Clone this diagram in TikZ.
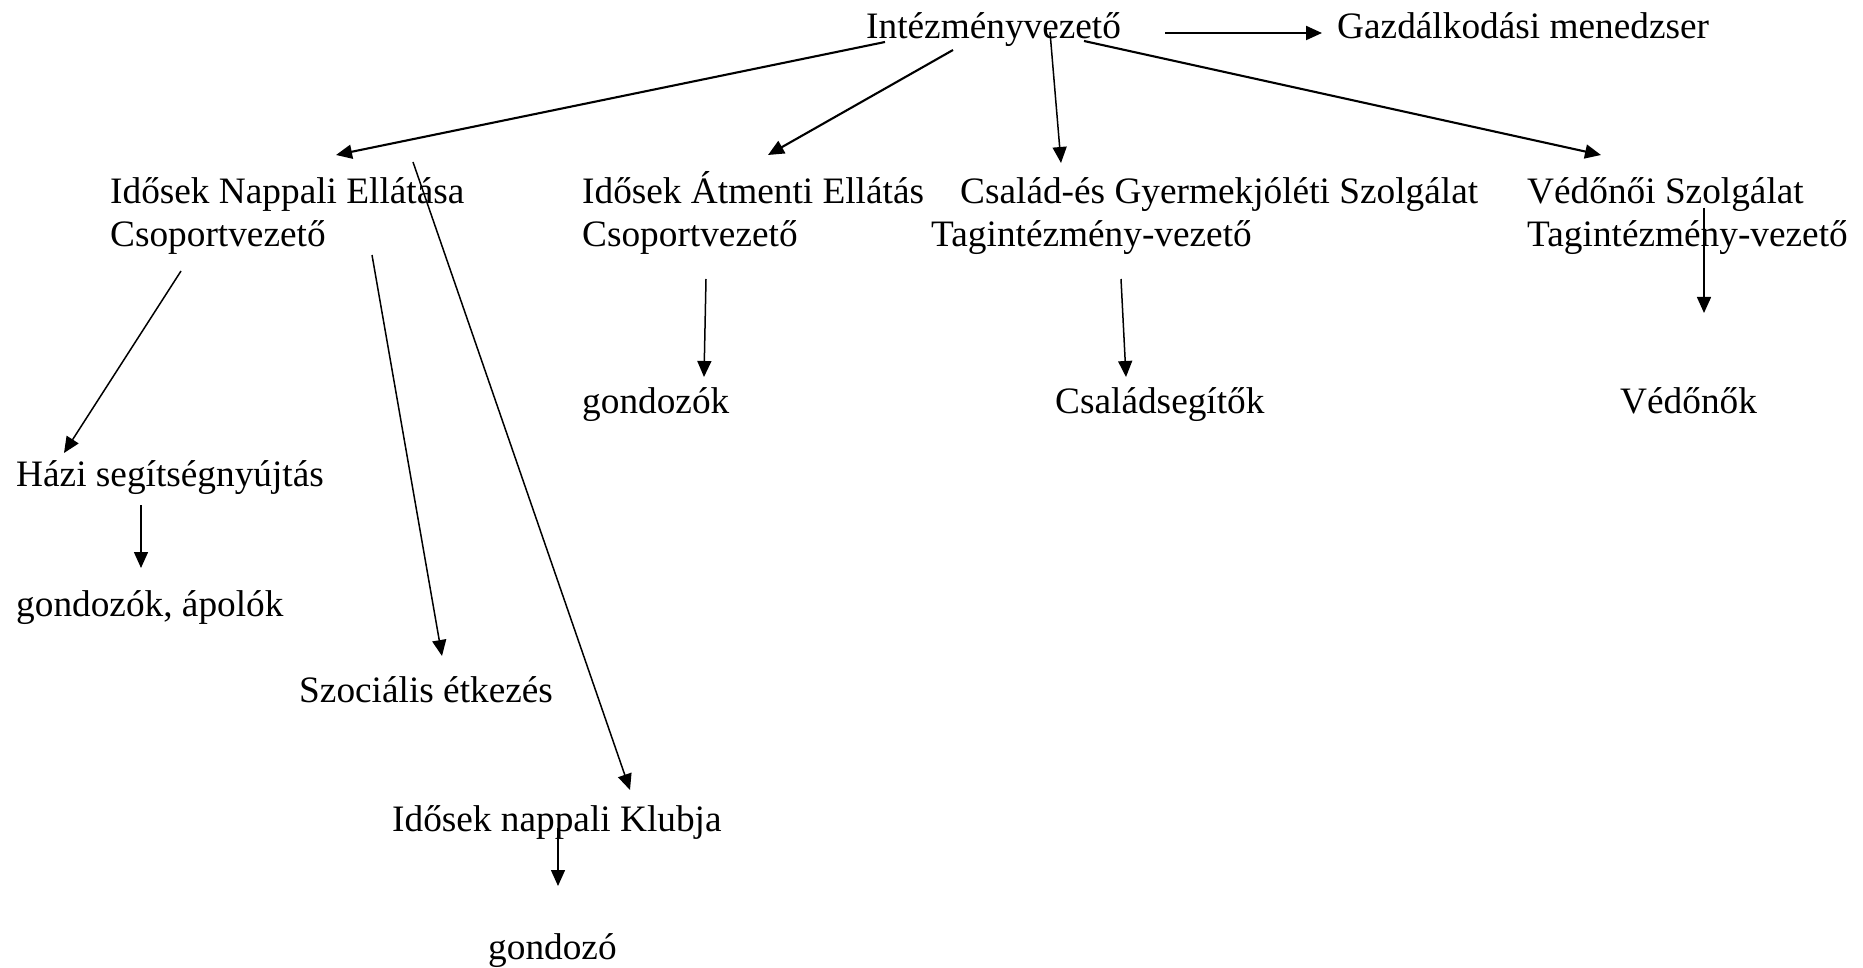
\documentclass[tikz,border=0pt]{standalone}
\usepackage{fontspec}
\setmainfont{Liberation Serif}
\usetikzlibrary{arrows.meta}
\begin{document}
\begin{tikzpicture}[x=1pt,y=-1pt,
  lbl/.style={anchor=base west, inner sep=0pt, font=\fontsize{37.3}{43}\selectfont},
  conn/.style={-{Triangle[length=16pt,width=14pt]}, line width=1.5pt},
  bconn/.style={conn, line width=2.1pt}]
\useasboundingbox (0,0) rectangle (1863,968);
% nodes
\node[lbl] (top) at (866,39) {Intézményvezető};
\node[lbl] (gazd) at (1337,39) {Gazdálkodási menedzser};
\node[lbl] (napA) at (110,204) {Idősek Nappali Ellátása};
\node[lbl] (napB) at (110,247) {Csoportvezető};
\node[lbl] (atmA) at (582,204) {Idősek Átmenti Ellátás};
\node[lbl] (atmB) at (582,247) {Csoportvezető};
\node[lbl] (csaA) at (960,204) {Család-és Gyermekjóléti Szolgálat};
\node[lbl] (csaB) at (931,247) {Tagintézmény-vezető};
\node[lbl] (vedA) at (1527,204) {Védőnői Szolgálat};
\node[lbl] (vedB) at (1527,247) {Tagintézmény-vezető};
\node[lbl] (gond) at (582,413) {gondozók};
\node[lbl] (csal) at (1055,413) {Családsegítők};
\node[lbl] (vedo) at (1620,413) {Védőnők};
\node[lbl] (hazi) at (16,486) {Házi segítségnyújtás};
\node[lbl] (gondap) at (16,616) {gondozók, ápolók};
\node[lbl] (szoc) at (299,702) {Szociális étkezés};
\node[lbl] (klub) at (392,831) {Idősek nappali Klubja};
\node[lbl] (gondo) at (488,959) {gondozó};
% connector end points
\coordinate (a1) at (885,42);   \coordinate (a2) at (336,155);
\coordinate (b1) at (953,50);   \coordinate (b2) at (768,155);
\coordinate (c1) at (1050,32);  \coordinate (c2) at (1061,163);
\coordinate (d1) at (1084,41);  \coordinate (d2) at (1601,155);
\coordinate (e1) at (1165,33);  \coordinate (e2) at (1322,33);
\coordinate (f1) at (1704,208); \coordinate (f2) at (1704,313);
\coordinate (g1) at (1121,279); \coordinate (g2) at (1126,377);
\coordinate (h1) at (706,279);  \coordinate (h2) at (704,377);
\coordinate (i1) at (181,271);  \coordinate (i2) at (64,453);
\coordinate (j1) at (372,255);  \coordinate (j2) at (442,656);
\coordinate (k1) at (413,162);  \coordinate (k2) at (630,790);
\coordinate (l1) at (141,505);  \coordinate (l2) at (141,568);
\coordinate (m1) at (558,828);  \coordinate (m2) at (558,886);
% connectors
\draw[bconn] (a1) -- (a2);
\draw[bconn] (b1) -- (b2);
\draw[conn] (c1) -- (c2);
\draw[bconn] (d1) -- (d2);
\draw[bconn] (e1) -- (e2);
\draw[conn] (f1) -- (f2);
\draw[conn] (g1) -- (g2);
\draw[conn] (h1) -- (h2);
\draw[conn] (i1) -- (i2);
\draw[conn] (j1) -- (j2);
\draw[conn] (k1) -- (k2);
\draw[conn] (l1) -- (l2);
\draw[conn] (m1) -- (m2);
\end{tikzpicture}
\end{document}
